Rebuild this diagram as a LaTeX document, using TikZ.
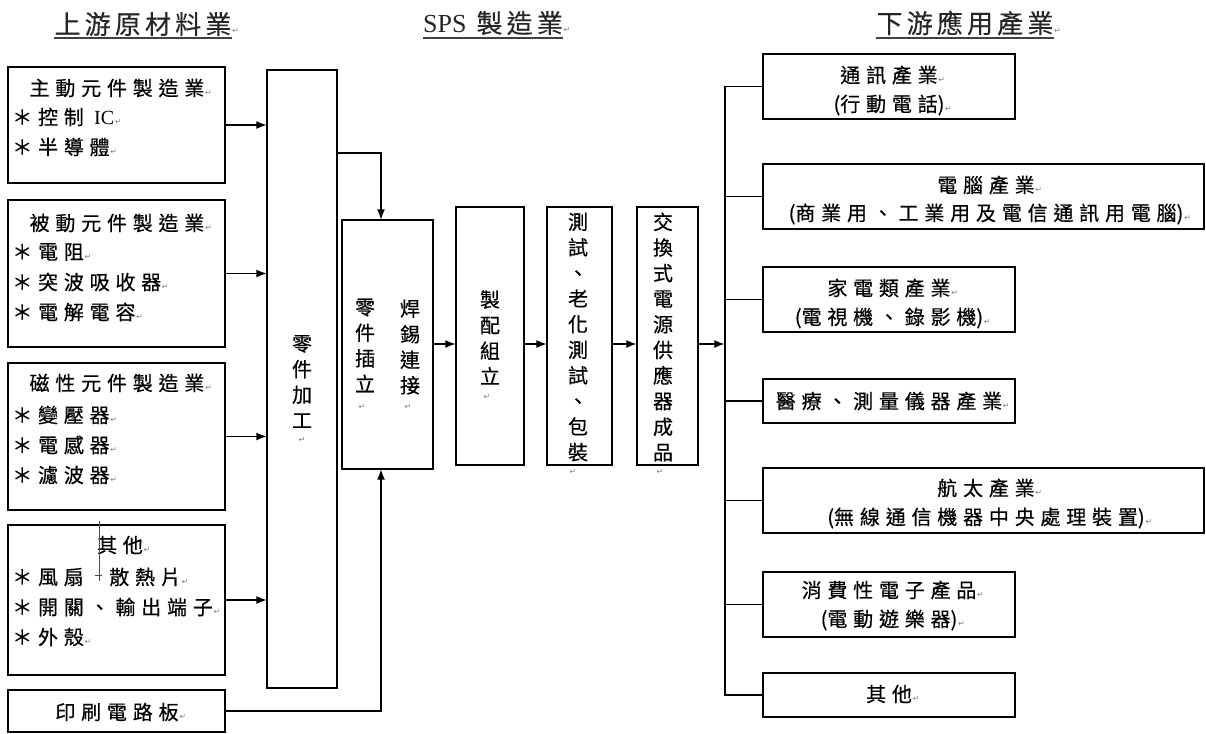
\documentclass[tikz,border=0pt]{standalone}
\usepackage{fontspec}
\setmainfont{Liberation Serif}
\newfontfamily\cjk[LetterSpace=29,FakeBold=0.5]{Noto Sans CJK TC}
\newfontfamily\cjkh[LetterSpace=16,FakeBold=0.3]{Noto Sans CJK TC}
\newfontfamily\cjkv[FakeBold=0.5]{Noto Sans CJK TC}
\newfontfamily\arrfont{DejaVu Sans}
\usetikzlibrary{arrows.meta}
\newcommand\rt{\rlap{\hspace{0.5pt}\arrfont\fontsize{6}{6}\selectfont\textcolor{gray}{↵}}}
\newcommand\lp{{\cjkv(}}
\newcommand\rp{{\cjkv)}}
\newcommand\bx[5]{\node[boxst, minimum width={(#4-#2)*0.75pt}, minimum height={(#5-#3)*0.75pt}] (#1) at ({(#2+#4)/2},{(#3+#5)/2}) {};}
\tikzset{
  boxst/.style={draw, line width=1.4pt, inner sep=0pt, outer sep=0pt, rectangle},
  body/.style={font=\fontsize{15}{17}\cjk, inner sep=0pt},
  vert/.style={font=\fontsize{15}{19.2}\cjkv, align=center, inner sep=0pt},
  head/.style={font=\fontsize{19.5}{22}\cjkh, inner sep=0pt, text=black!85},
  retmark/.style={font=\fontsize{6}{6}\arrfont, text=gray, inner sep=0pt},
  conn/.style={line width=1.3pt},
  arr/.style={conn, -{Latex[length=8pt,width=6pt]}},
  uline/.style={line width=1pt, black!75}
}
\begin{document}
\begin{tikzpicture}[x=0.75pt,y=-0.75pt]
\useasboundingbox (0,0) rectangle (1206,733);

% headers
\node[head] (h1) at (143,24) {上游原材料業\rt};
\node[head] (h2) at (493,23) {{\rmfamily SPS} 製造業\rt};
\node[head] (h3) at (965,23) {下游應用產業\rt};
\coordinate (ul) at (0,38);
\draw[uline] (h1.west |- ul) -- (h1.east |- ul);
\draw[uline] (h2.west |- ul) -- (h2.east |- ul);
\draw[uline] (h3.west |- ul) -- (h3.east |- ul);

% left boxes
\bx{pA}{8}{67}{225}{183}
\bx{pB}{8}{200}{225}{347}
\bx{pC}{8}{363}{225}{510}
\bx{pD}{8}{525}{225}{675}
\bx{pcb}{8}{690}{225}{732}

\node[body] (a0) at (117,88) {主動元件製造業\rt};
\node[body,anchor=west] (a1) at (12,117) {＊控制 {\rmfamily IC}\rt};
\node[body,anchor=west] (a2) at (12,147) {＊半導體\rt};

\node[body] (b0) at (117,223) {被動元件製造業\rt};
\node[body,anchor=west] (b1) at (12,252) {＊電阻\rt};
\node[body,anchor=west] (b2) at (12,282) {＊突波吸收器\rt};
\node[body,anchor=west] (b3) at (12,312) {＊電解電容\rt};

\node[body] (c0) at (117,383) {磁性元件製造業\rt};
\node[body,anchor=west] (c1) at (12,415) {＊變壓器\rt};
\node[body,anchor=west] (c2) at (12,445) {＊電感器\rt};
\node[body,anchor=west] (c3) at (12,475) {＊濾波器\rt};

\node[body] (d0) at (120,545) {其他\rt};
\node[body,anchor=west] (d1) at (12,577) {＊風扇};
\node[body,anchor=west] (d1b) at (109,577) {散熱片\rt};
\node[body,anchor=west] (d2) at (12,607) {＊開關、輸出端子\rt};
\node[body,anchor=west] (d3) at (12,637) {＊外殼\rt};
\draw[line width=0.6pt, black!70] (99,521) -- (99,581);
\draw[line width=0.6pt, black!70] (95,575) -- (102,575);

\node[body] (e0) at (117,712) {印刷電路板\rt};

% middle boxes
\bx{jg}{267}{70}{337}{688}
\bx{ins}{342}{220}{433}{469}
\bx{asm}{456}{207}{524}{465}
\bx{tst}{547}{207}{612}{465}
\bx{prd}{637}{207}{698}{465}

\node[vert] (v1) at (302,381.5) {零\\件\\加\\工};
\node[vert] (v2) at (365,345.5) {零\\件\\插\\立};
\node[vert] (v3) at (410,347) {焊\\錫\\連\\接};
\node[vert] (v4) at (490,337.5) {製\\配\\組\\立};
\node[vert] (v5) at (578,337) {測\\試\\、\\老\\化\\測\\試\\、\\包\\裝};
\node[vert] (v6) at (663,337) {交\\換\\式\\電\\源\\供\\應\\器\\成\\品};
\node[retmark] (m1) at (302,440) {↵};
\node[retmark] (m2) at (362,407) {↵};
\node[retmark] (m3) at (408,407) {↵};
\node[retmark] (m4) at (487,397) {↵};
\node[retmark] (m5) at (573,472) {↵};
\node[retmark] (m6) at (660,472) {↵};

% right boxes
\bx{r1}{763}{54}{1015}{119}
\bx{r2}{763}{164}{1204}{229}
\bx{r3}{763}{267}{1015}{332}
\bx{r4}{763}{379}{1015}{423}
\bx{r5}{763}{468}{1204}{533}
\bx{r6}{763}{572}{1015}{637}
\bx{r7}{763}{673}{1015}{717}

\node[body] (s1a) at (889,75) {通訊產業\rt};
\node[body] (s1b) at (889,105) {\lp 行動電話\rp\rt};
\node[body] (s2a) at (986,185) {電腦產業\rt};
\node[body] (s2b) at (986,214) {\lp 商業用、工業用及電信通訊用電腦\rp\rt};
\node[body] (s3a) at (889,288) {家電類產業\rt};
\node[body] (s3b) at (889,318) {\lp 電視機、錄影機\rp\rt};
\node[body] (s4a) at (889,401) {醫療、測量儀器產業\rt};
\node[body] (s5a) at (986,488) {航太產業\rt};
\node[body] (s5b) at (986,518) {\lp 無線通信機器中央處理裝置\rp\rt};
\node[body] (s6a) at (889,590) {消費性電子產品\rt};
\node[body] (s6b) at (889,620) {\lp 電動遊樂器\rp\rt};
\node[body] (s7a) at (889,694) {其他\rt};

% connectors: left -> jg
\draw[arr] (pA.east) -- (pA.east -| jg.west);
\draw[arr] (pB.east) -- (pB.east -| jg.west);
\draw[arr] (pC.east) -- (pC.east -| jg.west);
\draw[arr] (pD.east) -- (pD.east -| jg.west);

\coordinate (c1) at (381,153);
\draw[arr] (jg.east |- c1) -- (c1) -- (c1 |- ins.north);
\draw[arr] (pcb.east) -- (pcb.east -| c1) -- (c1 |- ins.south);

\coordinate (mid) at (0,344);
\draw[arr] (ins.east |- mid) -- (asm.west |- mid);
\draw[arr] (asm.east |- mid) -- (tst.west |- mid);
\draw[arr] (tst.east |- mid) -- (prd.west |- mid);

\coordinate (bus) at (725,344);
\draw[arr] (prd.east |- mid) -- (bus);
\draw[conn] (r1.west) -- (r1.west -| bus) -- (r7.west -| bus) -- (r7.west);
\draw[conn] (r2.west) -- (r2.west -| bus);
\draw[conn] (r3.west) -- (r3.west -| bus);
\draw[conn] (r4.west) -- (r4.west -| bus);
\draw[conn] (r5.west) -- (r5.west -| bus);
\draw[conn] (r6.west) -- (r6.west -| bus);
\end{tikzpicture}
\end{document}
